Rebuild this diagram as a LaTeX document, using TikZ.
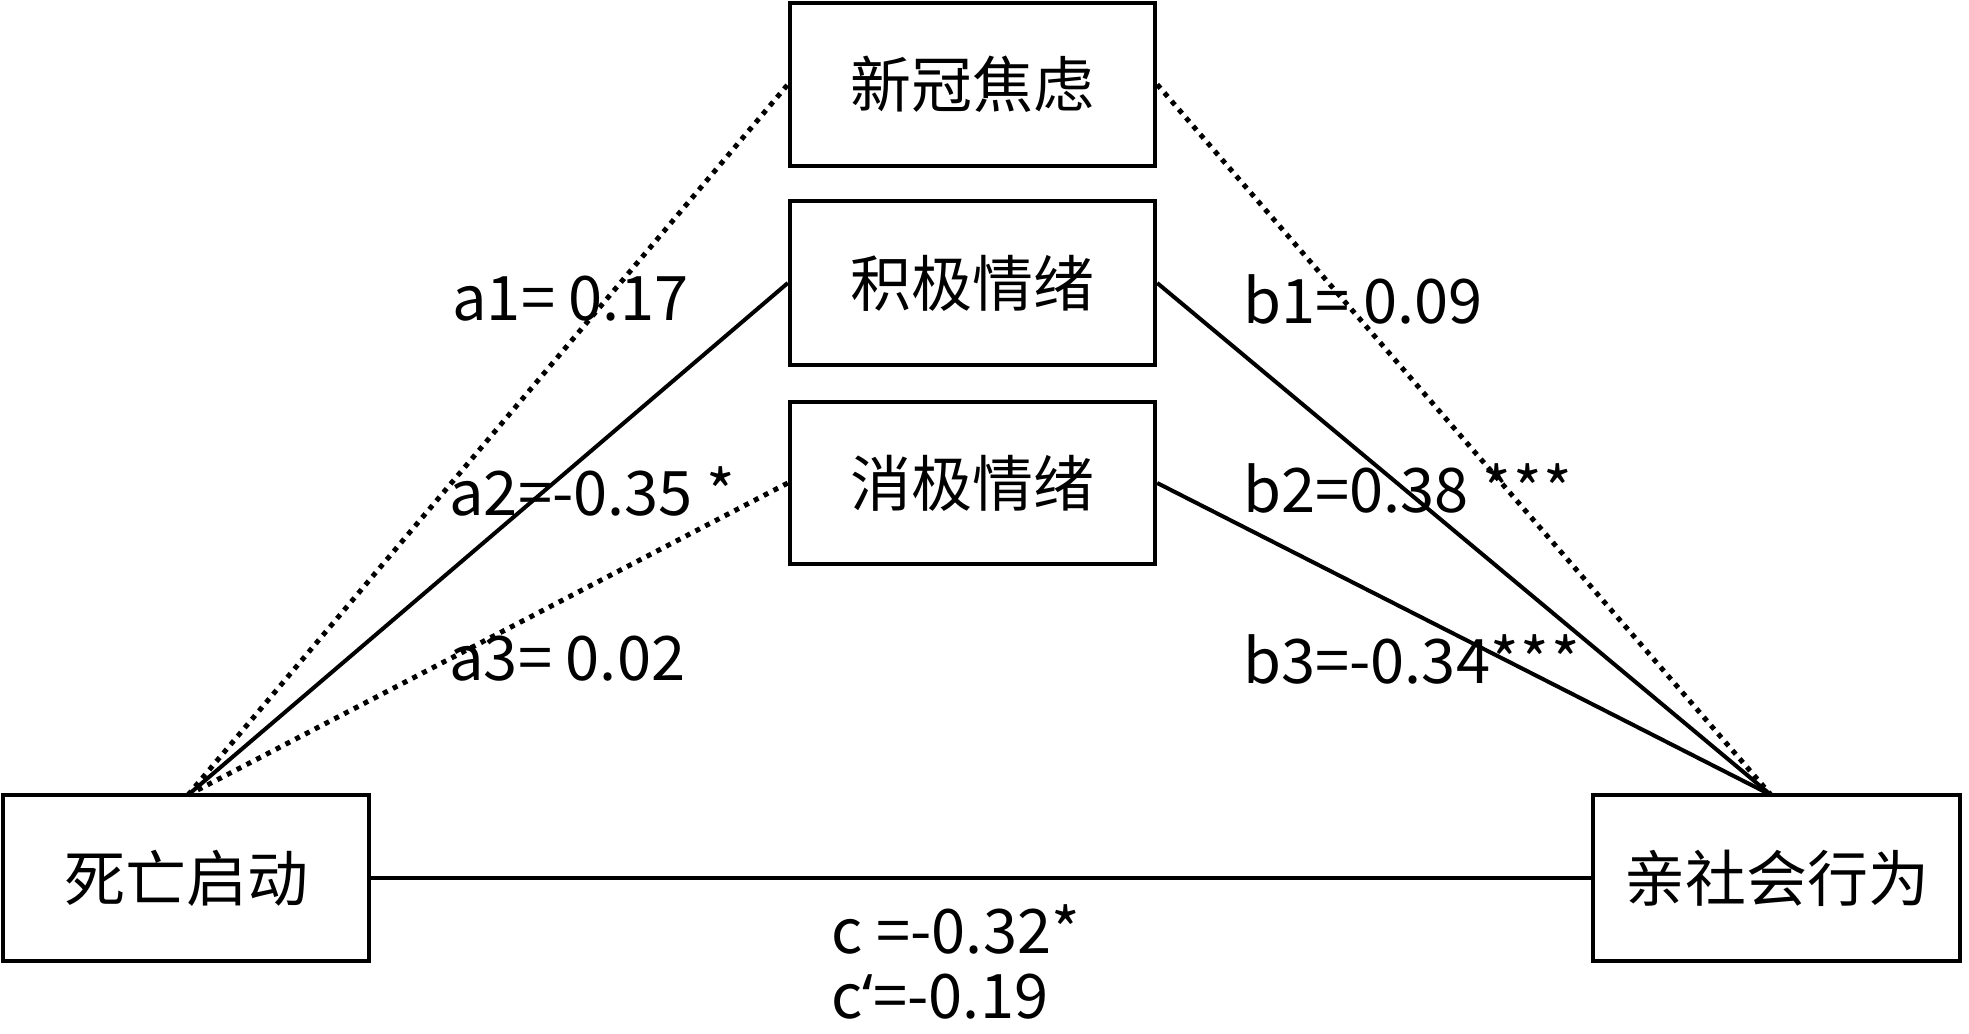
\documentclass[tikz,border=0pt]{standalone}
\usepackage{fontspec}
\setmainfont{Noto Sans CJK SC}
\newfontfamily\latinf{Noto Sans}
\begin{document}
\begin{tikzpicture}[x=0.5pt,y=-0.5pt,
  box/.style={draw=black,line width=2.2pt,rectangle,inner sep=0pt,font=\fontsize{30.5pt}{36pt}\selectfont},
  solidline/.style={line width=2pt},
  dotline/.style={line width=2.5pt,dash pattern=on 2.5pt off 3pt},
  lab/.style={anchor=west,inner sep=0pt,font=\fontsize{30.7pt}{36pt}\selectfont}]
\useasboundingbox (0,0) rectangle (1969,1033);
\fill[white] (0,0) rectangle (1969,1033);
\node[box,minimum width=182.5pt,minimum height=81.5pt] (m1) at (972.5,84.5) {新冠焦虑};
\node[box,minimum width=182.5pt,minimum height=82pt] (m2) at (972.5,283) {积极情绪};
\node[box,minimum width=182.5pt,minimum height=81pt] (m3) at (972.5,483) {消极情绪};
\node[box,minimum width=183pt,minimum height=83pt] (L) at (186,878) {死亡启动};
\node[box,minimum width=183.5pt,minimum height=83pt] (R) at (1776.5,878) {亲社会行为};
\coordinate (Ltop) at (188,795);
\coordinate (Rtop) at (1771,795);
\draw[dotline] (Ltop) -- (m1.west);
\draw[solidline] (Ltop) -- (m2.west);
\draw[dotline] (Ltop) -- (m3.west);
\draw[dotline] (m1.east) -- (Rtop);
\draw[solidline] (m2.east) -- (Rtop);
\draw[solidline] (m3.east) -- (Rtop);
\draw[solidline] (L.east) -- (R.west);
\node[lab] (la1) at (452,299) {a1= 0.17};
\node[lab] (la2) at (449,491) {a2=-0.35 *};
\node[lab] (la3) at (449,659) {a3= 0.02};
\node[lab] (lb1) at (1243,299) {b1= 0.09};
\node[lab] (lb2) at (1243,488) {b2=0.38 *\kern1pt*\kern1pt*};
\node[lab] (lb3) at (1243,659) {b3=-0.34*\kern1pt*\kern1pt*};
\node[lab] (lc) at (831,929) {c =-0.32*};
\node[lab] (lcp) at (831,997) {c{\latinf ‘}=-0.19};
\end{tikzpicture}
\end{document}
